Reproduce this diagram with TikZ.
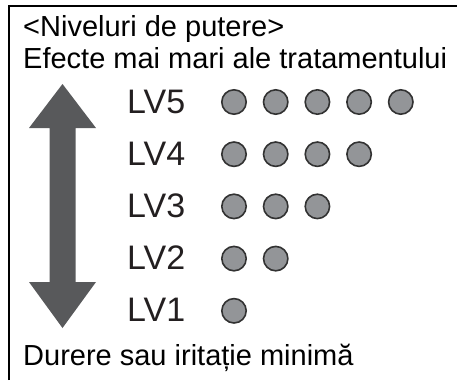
\documentclass[tikz,border=0pt]{standalone}
\usepackage{fontspec}
\setmainfont{Liberation Sans}
\usetikzlibrary{positioning}
\definecolor{arrowgray}{RGB}{88,89,91}
\definecolor{dotgray}{RGB}{147,149,152}
\definecolor{dotline}{RGB}{50,50,50}
\definecolor{lvblack}{RGB}{35,31,32}

\begin{document}
\begin{tikzpicture}[x=1pt,y=-1pt,
    title text/.style={anchor=base west,inner sep=0pt,font=\fontsize{29}{32}\selectfont},
    level text/.style={anchor=base west,inner sep=0pt,text=lvblack,font=\fontsize{34}{38}\selectfont},
    power dot/.style={circle,draw=dotline,fill=dotgray,line width=1.6pt,minimum size=24.4pt,inner sep=0pt}]
\useasboundingbox (0,0) rectangle (457,380);
%Frame
    \draw[line width=2pt] (8.7,380) -- (8.7,6) -- (457,6);
%Nodes
    \node[title text] (head) at (23,36) {<Niveluri de putere>};
    \node[title text] (top) at (23,68) {Efecte mai mari ale tratamentului};
    \node[title text] (bottom) at (23,365) {Durere sau iritație minimă};
    \foreach \lv in {1,...,5} {
        \pgfmathsetmacro\yy{113+(5-\lv)*52.2}
        \node[level text] (LV\lv) at (127,\yy) {LV\lv};
        \foreach \k in {1,...,\lv}
            \node[power dot] (dot\lv\k) at ({234+(\k-1)*41.7},{\yy-11}) {};
    }
%Arrow
    \fill[arrowgray] (62.5,84) -- (96,128) -- (75.5,128) -- (75.5,282) -- (96,282)
        -- (62.5,328) -- (29,282) -- (49.5,282) -- (49.5,128) -- (29,128) -- cycle;
\end{tikzpicture}
\end{document}
